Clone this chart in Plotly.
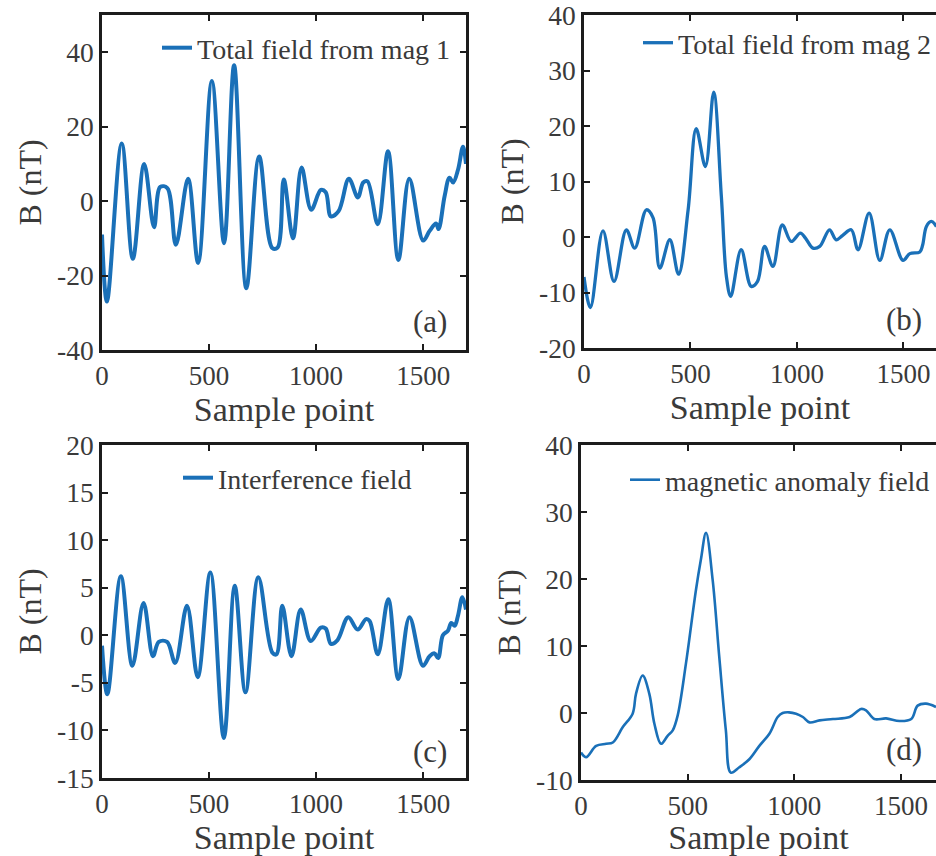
import plotly.graph_objects as go

# ---------------- data ----------------
mag1_x = [0, 23, 92, 144, 197, 243, 272, 305, 345, 402, 449, 513, 570, 617, 674, 734, 795, 820,
          849, 892, 932, 977, 1022, 1045, 1069, 1105, 1153, 1195, 1220, 1240, 1288, 1336, 1384,
          1435, 1500, 1530, 1560, 1572, 1600, 1623, 1640, 1663, 1686, 1700]
mag1_y = [-9, -27, 15.5, -15.5, 10, -7, 3.8, 3.5, -11.7, 6, -16.6, 32.3, -11.3, 36.5, -23.4, 12,
          -12.6, -12.5, 5.8, -10, 9, -2.3, 3, 2.4, -4.1, -2.7, 6, 1, 5, 5.3, -6.2, 13.4, -15.8,
          6, -10.6, -8, -6, -7.5, 1.3, 6.3, 5, 8.5, 14.6, 10]

mag2_x = [0, 30, 89, 141, 199, 238, 293, 324, 356, 403, 444, 489, 527, 570, 609, 645, 669, 689,
          738, 785, 815, 848, 887, 931, 973, 1016, 1040, 1075, 1107, 1153, 1184, 1215, 1255,
          1287, 1339, 1389, 1436, 1498, 1530, 1577, 1590, 1608, 1631, 1655]
mag2_y = [-7.2, -12.7, 1.1, -8, 1.3, -2, 4.9, 3.5, -5.6, -0.5, -6.7, 4.9, 19.5, 12.7, 26.1, 7.3,
          -7.2, -10.7, -2.3, -8.9, -8, -1.7, -5.3, 2.2, -0.8, 0.7, -0.2, -2, -1.7, 1.3, -0.5,
          0.3, 1.3, -2.3, 4.3, -4.2, 1.3, -4.2, -3, -2.7, -1.5, 1.9, 2.8, 1.9]

intf_x = [0, 25, 88, 142, 194, 238, 265, 304, 342, 397, 447, 506, 569, 620, 670, 730, 795, 815,
          842, 885, 928, 975, 1022, 1045, 1069, 1100, 1150, 1194, 1233, 1250, 1288, 1337, 1384,
          1436, 1499, 1530, 1553, 1570, 1592, 1616, 1631, 1647, 1662, 1683, 1700]
intf_y = [-1.1, -6.2, 6.2, -3.2, 3.4, -2.2, -0.7, -0.7, -2.9, 3.1, -4.4, 6.6, -10.8, 5.2, -6,
          6.1, -1.8, -2, 3.1, -2.2, 2.7, -0.6, 0.8, 0.7, -0.9, -0.5, 1.9, 0.6, 1.7, 1.5, -2,
          3.8, -4.6, 1.9, -3.2, -2.2, -1.9, -2.4, 0, 0.5, 1.3, 1, 2, 4, 2.7]

anom_x = [0, 24, 71, 118, 149, 196, 242, 258, 289, 320, 344, 375, 406, 430, 453, 492, 539, 562,
          586, 617, 648, 679, 702, 742, 789, 836, 883, 922, 945, 975, 1008, 1040, 1071, 1118,
          1181, 1259, 1313, 1336, 1375, 1430, 1493, 1548, 1578, 1617, 1664]
anom_y = [-5.9, -6.6, -4.9, -4.6, -4.4, -2.1, -0.1, 2.9, 5.6, 2.9, -1.6, -4.6, -3.4, -2.6, -0.4,
          7.4, 18.4, 22.9, 26.9, 19.9, 8.4, -2.6, -8.9, -8.1, -6.9, -4.9, -3.1, -0.6, 0, 0.1,
          -0.1, -0.6, -1.4, -1.1, -0.9, -0.6, 0.6, 0.4, -0.9, -0.8, -1.2, -0.9, 1.1, 1.4, 0.9]

series_names = ["Total field from mag 1", "Total field from mag 2",
                "Interference field", "magnetic anomaly field"]
panel_labels = ["(a)", "(b)", "(c)", "(d)"]

x_ticks = [0, 500, 1000, 1500]
x_ticktext = ["0", "500", "1000", "1500"]
ya_ticks = [-40, -20, 0, 20, 40]
yb_ticks = [-20, -10, 0, 10, 20, 30, 40]
yc_ticks = [-15, -10, -5, 0, 5, 10, 15, 20]
yd_ticks = [-10, 0, 10, 20, 30, 40]

# ---------------- styling ----------------
W, H = 936, 856
FONT = "Liberation Serif"
BLUE = "#1A70B8"
AXC = "#1c1c1c"
TXT = "#3a3a3a"


def px_x(a, b):
    return [a / W, b / W]


def px_y(top, bottom):
    return [(H - bottom) / H, (H - top) / H]


fig = go.Figure()

panels = [
    dict(x=mag1_x, y=mag1_y, xd=px_x(102, 466), yd=px_y(15, 350), xr=[0, 1700], yr=[-40, 50],
         yt=ya_ticks, lw=4.0, mirror_y="ticks", leg=(157, 48), lab=(-17, 9)),
    dict(x=mag2_x, y=mag2_y, xd=px_x(584, 936), yd=px_y(15, 348), xr=[0, 1653], yr=[-20, 40],
         yt=yb_ticks, lw=3.3, mirror_y=False, leg=(638, 43), lab=(-12, 9)),
    dict(x=intf_x, y=intf_y, xd=px_x(102, 466), yd=px_y(445, 778), xr=[0, 1700], yr=[-15, 20],
         yt=yc_ticks, lw=4.0, mirror_y="ticks", leg=(178, 478), lab=(-17, 7)),
    dict(x=anom_x, y=anom_y, xd=px_x(581, 936), yd=px_y(445, 780), xr=[0, 1664], yr=[-10, 40],
         yt=yd_ticks, lw=2.6, mirror_y=False, leg=(625, 480), lab=(-12, 11)),
]

layout_updates = {}
for i, p in enumerate(panels):
    n = i + 1
    xa = "x" if n == 1 else f"x{n}"
    ya = "y" if n == 1 else f"y{n}"
    legname = "legend" if n == 1 else f"legend{n}"
    fig.add_trace(go.Scatter(
        x=p["x"], y=p["y"], mode="lines", name=series_names[i],
        line=dict(color=BLUE, width=p["lw"], shape="spline", smoothing=1.0),
        xaxis=xa, yaxis=ya, legend=legname, showlegend=True,
    ))
    xkey = "xaxis" if n == 1 else f"xaxis{n}"
    ykey = "yaxis" if n == 1 else f"yaxis{n}"
    layout_updates[xkey] = dict(
        domain=p["xd"], range=p["xr"], anchor=ya, tickvals=x_ticks, ticktext=x_ticktext,
        ticks="inside", ticklen=6, tickwidth=1.8, tickcolor=AXC,
        showline=True, linecolor=AXC, linewidth=2.6, mirror="ticks",
        showgrid=False, zeroline=False, ticklabeloverflow="allow",
        tickfont=dict(family=FONT, size=27, color=TXT),
        title=dict(text="Sample point", font=dict(family=FONT, size=34, color=TXT), standoff=1),
    )
    yt = p["yt"]
    layout_updates[ykey] = dict(
        domain=p["yd"], range=p["yr"], anchor=xa, tickvals=yt,
        ticktext=[str(v) for v in yt],
        ticks="inside", ticklen=6, tickwidth=1.8, tickcolor=AXC,
        showline=True, linecolor=AXC, linewidth=2.6, mirror=p["mirror_y"],
        showgrid=False, zeroline=False, ticklabeloverflow="allow",
        tickfont=dict(family=FONT, size=27.5, color=TXT),
        title=dict(text="B (nT)", font=dict(family=FONT, size=32, color=TXT), standoff=6),
    )
    lx, ly = p["leg"]
    layout_updates[legname] = dict(
        x=lx / W, y=1 - ly / H, xanchor="left", yanchor="middle",
        bgcolor="rgba(0,0,0,0)", borderwidth=0,
        font=dict(family=FONT, size=28, color=TXT),
    )
    fig.add_annotation(
        text=panel_labels[i], xref=f"{xa} domain", yref=f"{ya} domain", x=1, y=0,
        xanchor="right", yanchor="bottom", xshift=p["lab"][0], yshift=p["lab"][1],
        showarrow=False, font=dict(family=FONT, size=31, color=TXT),
    )

fig.update_layout(**layout_updates)
fig.update_layout(
    width=W, height=H,
    margin=dict(l=0, r=0, t=0, b=0, autoexpand=False),
    paper_bgcolor="white", plot_bgcolor="white",
    font=dict(family=FONT, color=TXT),
)

fig.write_html(
    "out.html",
    config={"displayModeBar": False},
    post_script="document.body.style.margin='0';document.body.style.overflow='hidden';",
)
